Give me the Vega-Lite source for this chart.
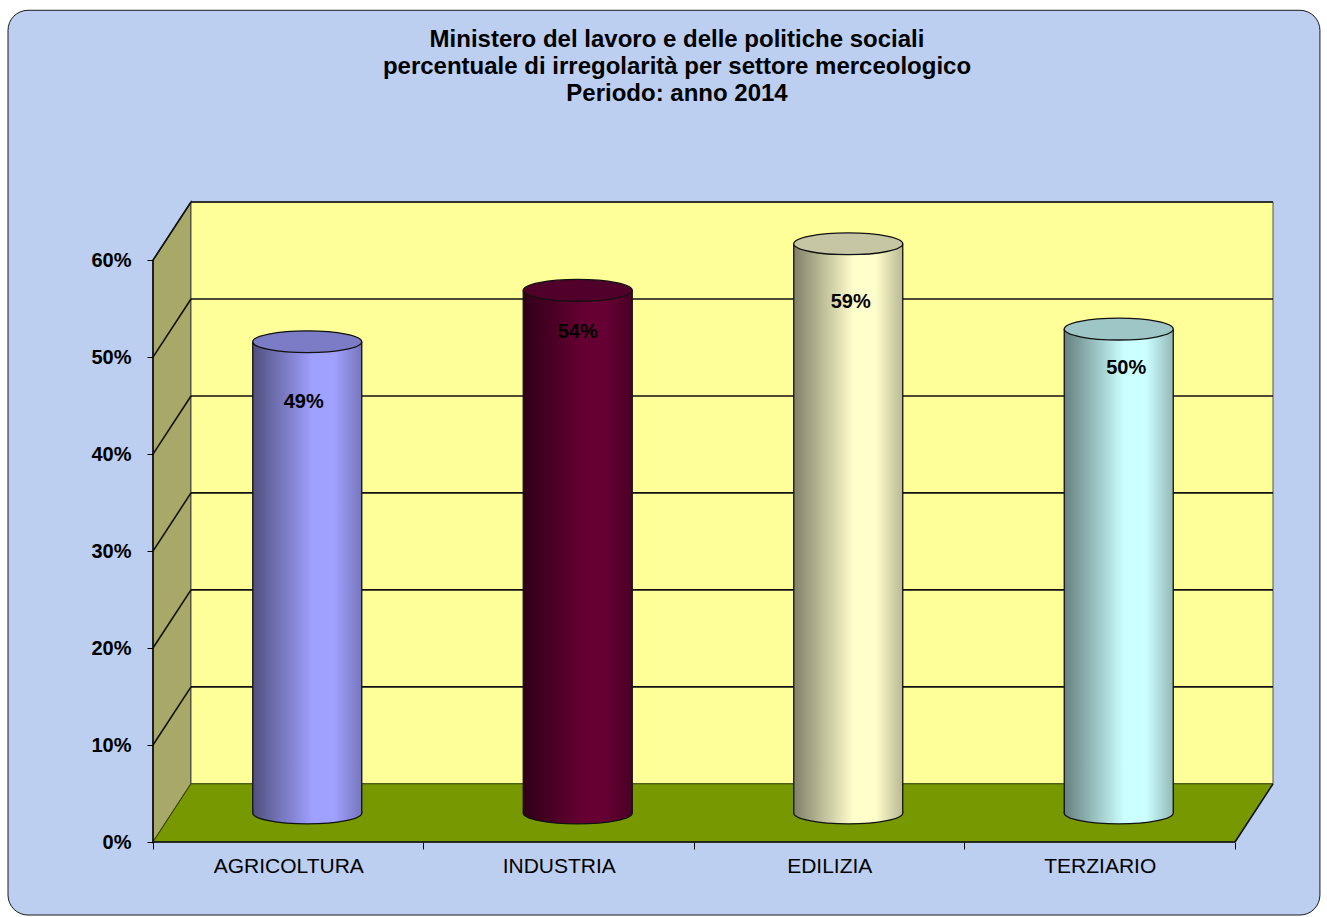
{
  "$schema": "https://vega.github.io/schema/vega-lite/v6.json",
  "width": 1120,
  "height": 640,
  "autosize": {"type": "none"},
  "padding": {"left": 153, "top": 202, "right": 54, "bottom": 75},
  "background": "#ffffff",
  "view": {"stroke": null},
  "title": {
    "text": ["Ministero del lavoro e delle politiche sociali", "percentuale di irregolarità per settore merceologico", "Periodo: anno 2014"],
    "font": "Liberation Sans", "fontSize": 24, "fontWeight": "bold", "color": "#000000",
    "anchor": "middle", "frame": "group", "dx": -36, "offset": -96, "lineHeight": 27
  },
  "datasets": {
    "settori": [
      {"settore": "AGRICOLTURA", "pos": 0.5, "valore": 0.486},
      {"settore": "INDUSTRIA", "pos": 1.5, "valore": 0.539},
      {"settore": "EDILIZIA", "pos": 2.5, "valore": 0.587},
      {"settore": "TERZIARIO", "pos": 3.5, "valore": 0.499}
    ],
    "griglia": [
      {"x": 0, "x2": 0.1405, "y": 0.1, "y2": 0.16},
      {"x": 0.1405, "x2": 4.1405, "y": 0.16, "y2": 0.16},
      {"x": 0, "x2": 0.1405, "y": 0.2, "y2": 0.26},
      {"x": 0.1405, "x2": 4.1405, "y": 0.26, "y2": 0.26},
      {"x": 0, "x2": 0.1405, "y": 0.3, "y2": 0.36},
      {"x": 0.1405, "x2": 4.1405, "y": 0.36, "y2": 0.36},
      {"x": 0, "x2": 0.1405, "y": 0.4, "y2": 0.46},
      {"x": 0.1405, "x2": 4.1405, "y": 0.46, "y2": 0.46},
      {"x": 0, "x2": 0.1405, "y": 0.5, "y2": 0.56},
      {"x": 0.1405, "x2": 4.1405, "y": 0.56, "y2": 0.56},
      {"x": 0, "x2": 0.1405, "y": 0.6, "y2": 0.66},
      {"x": 0.1405, "x2": 4.1405, "y": 0.66, "y2": 0.66},
      {"x": 0, "x2": 4, "y": 0, "y2": 0},
      {"x": 0, "x2": 0, "y": 0, "y2": 0.6},
      {"x": 4, "x2": 4.1405, "y": 0, "y2": 0.06}
    ]
  },
  "data": {"name": "settori"},
  "layer": [
    {
      "data": {"values": [{"x": -0.536, "x2": 4.314, "y": 0.8577, "y2": -0.0753}]},
      "mark": {"type": "rect", "fill": "#bccff0", "stroke": "#1a1a1a", "strokeWidth": 1, "cornerRadius": 20},
      "encoding": {
        "x": {"field": "x", "type": "quantitative", "scale": {"domain": [0, 4.1405], "nice": false, "zero": false, "padding": 0},
          "axis": {
            "title": null, "zindex": 1, "domain": false, "grid": false,
            "values": [0, 0.5, 1, 1.5, 2, 2.5, 3, 3.5, 4],
            "tickSize": 7, "tickColor": "#000000",
            "tickOpacity": {"condition": {"test": "datum.value % 1 != 0", "value": 0}, "value": 1},
            "labelExpr": "datum.value==0.5?'AGRICOLTURA':datum.value==1.5?'INDUSTRIA':datum.value==2.5?'EDILIZIA':datum.value==3.5?'TERZIARIO':''",
            "labelFont": "Liberation Sans", "labelFontSize": 21, "labelColor": "#000000", "labelPadding": 6, "labelOverlap": false, "labelFlush": false
          }},
        "x2": {"field": "x2"},
        "y": {"field": "y", "type": "quantitative", "scale": {"domain": [0, 0.66], "nice": false},
          "axis": {
            "title": null, "zindex": 1, "domain": false, "grid": false,
            "values": [0, 0.1, 0.2, 0.3, 0.4, 0.5, 0.6], "format": ".0%",
            "tickSize": 6, "tickColor": "#000000",
            "labelFont": "Liberation Sans", "labelFontSize": 20, "labelFontWeight": "bold", "labelColor": "#000000", "labelPadding": 16
          }},
        "y2": {"field": "y2"}
      }
    },
    {
      "data": {"values": [{"x": 0, "y": 0, "y2": 0.6}, {"x": 0.1405, "y": 0.06, "y2": 0.66}]},
      "mark": {"type": "area", "fill": "#a8a868", "stroke": "#222222", "strokeWidth": 1.2},
      "encoding": {
        "x": {"field": "x", "type": "quantitative"},
        "y": {"field": "y", "type": "quantitative"},
        "y2": {"field": "y2"}
      }
    },
    {
      "data": {"values": [{"x": 0.1405, "x2": 4.1405, "y": 0.06, "y2": 0.66}]},
      "mark": {"type": "rect", "fill": "#ffff99", "stroke": "#555555", "strokeWidth": 1},
      "encoding": {
        "x": {"field": "x", "type": "quantitative"},
        "x2": {"field": "x2"},
        "y": {"field": "y", "type": "quantitative"},
        "y2": {"field": "y2"}
      }
    },
    {
      "data": {"values": [{"y": 0, "x": 0, "x2": 4}, {"y": 0.06, "x": 0.1405, "x2": 4.1405}]},
      "mark": {"type": "area", "orient": "horizontal", "fill": "#789800", "stroke": "#3a4a00", "strokeWidth": 1},
      "encoding": {
        "y": {"field": "y", "type": "quantitative"},
        "x": {"field": "x", "type": "quantitative"},
        "x2": {"field": "x2"}
      }
    },
    {
      "data": {"name": "griglia"},
      "mark": {"type": "rule", "stroke": "#111111", "strokeWidth": 1.6},
      "encoding": {
        "x": {"field": "x", "type": "quantitative"},
        "x2": {"field": "x2"},
        "y": {"field": "y", "type": "quantitative"},
        "y2": {"field": "y2"}
      }
    },
    {
      "transform": [{"filter": "datum.settore=='AGRICOLTURA'"}],
      "layer": [
        {"mark": {"type": "point", "filled": true, "opacity": 1, "size": 11881, "xOffset": 19, "yOffset": -29, "stroke": "#111111", "strokeWidth": 1.3, "shape": "M -1 0 A 1 0.2 0 1 0 1 0 A 1 0.2 0 1 0 -1 0 Z",
          "fill": {"gradient": "linear", "x1": 0, "x2": 1, "y1": 0, "y2": 0, "stops": [{"offset": 0, "color": "#50507f"}, {"offset": 0.55, "color": "#a0a0ff"}, {"offset": 0.75, "color": "#a0a0ff"}, {"offset": 1, "color": "#7676bc"}]}},
          "encoding": {"x": {"field": "pos", "type": "quantitative"}, "y": {"datum": 0, "type": "quantitative"}}},
        {"mark": {"type": "bar", "orient": "vertical", "size": 109, "xOffset": 19, "yOffset": -29, "y2Offset": -29,
          "fill": {"gradient": "linear", "x1": 0, "x2": 1, "y1": 0, "y2": 0, "stops": [{"offset": 0, "color": "#50507f"}, {"offset": 0.55, "color": "#a0a0ff"}, {"offset": 0.75, "color": "#a0a0ff"}, {"offset": 1, "color": "#7676bc"}]}},
          "encoding": {"x": {"field": "pos", "type": "quantitative"}, "y": {"field": "valore", "type": "quantitative", "stack": null}, "y2": {"datum": 0}}}
      ]
    },
    {
      "transform": [{"filter": "datum.settore=='INDUSTRIA'"}],
      "layer": [
        {"mark": {"type": "point", "filled": true, "opacity": 1, "size": 11881, "xOffset": 19, "yOffset": -29, "stroke": "#111111", "strokeWidth": 1.3, "shape": "M -1 0 A 1 0.2 0 1 0 1 0 A 1 0.2 0 1 0 -1 0 Z",
          "fill": {"gradient": "linear", "x1": 0, "x2": 1, "y1": 0, "y2": 0, "stops": [{"offset": 0, "color": "#300018"}, {"offset": 0.55, "color": "#660033"}, {"offset": 0.75, "color": "#660033"}, {"offset": 1, "color": "#4a0025"}]}},
          "encoding": {"x": {"field": "pos", "type": "quantitative"}, "y": {"datum": 0, "type": "quantitative"}}},
        {"mark": {"type": "bar", "orient": "vertical", "size": 109, "xOffset": 19, "yOffset": -29, "y2Offset": -29,
          "fill": {"gradient": "linear", "x1": 0, "x2": 1, "y1": 0, "y2": 0, "stops": [{"offset": 0, "color": "#300018"}, {"offset": 0.55, "color": "#660033"}, {"offset": 0.75, "color": "#660033"}, {"offset": 1, "color": "#4a0025"}]}},
          "encoding": {"x": {"field": "pos", "type": "quantitative"}, "y": {"field": "valore", "type": "quantitative", "stack": null}, "y2": {"datum": 0}}}
      ]
    },
    {
      "transform": [{"filter": "datum.settore=='EDILIZIA'"}],
      "layer": [
        {"mark": {"type": "point", "filled": true, "opacity": 1, "size": 11881, "xOffset": 19, "yOffset": -29, "stroke": "#111111", "strokeWidth": 1.3, "shape": "M -1 0 A 1 0.2 0 1 0 1 0 A 1 0.2 0 1 0 -1 0 Z",
          "fill": {"gradient": "linear", "x1": 0, "x2": 1, "y1": 0, "y2": 0, "stops": [{"offset": 0, "color": "#80806a"}, {"offset": 0.55, "color": "#ffffcc"}, {"offset": 0.75, "color": "#ffffcc"}, {"offset": 1, "color": "#b8b894"}]}},
          "encoding": {"x": {"field": "pos", "type": "quantitative"}, "y": {"datum": 0, "type": "quantitative"}}},
        {"mark": {"type": "bar", "orient": "vertical", "size": 109, "xOffset": 19, "yOffset": -29, "y2Offset": -29,
          "fill": {"gradient": "linear", "x1": 0, "x2": 1, "y1": 0, "y2": 0, "stops": [{"offset": 0, "color": "#80806a"}, {"offset": 0.55, "color": "#ffffcc"}, {"offset": 0.75, "color": "#ffffcc"}, {"offset": 1, "color": "#b8b894"}]}},
          "encoding": {"x": {"field": "pos", "type": "quantitative"}, "y": {"field": "valore", "type": "quantitative", "stack": null}, "y2": {"datum": 0}}}
      ]
    },
    {
      "transform": [{"filter": "datum.settore=='TERZIARIO'"}],
      "layer": [
        {"mark": {"type": "point", "filled": true, "opacity": 1, "size": 11881, "xOffset": 19, "yOffset": -29, "stroke": "#111111", "strokeWidth": 1.3, "shape": "M -1 0 A 1 0.2 0 1 0 1 0 A 1 0.2 0 1 0 -1 0 Z",
          "fill": {"gradient": "linear", "x1": 0, "x2": 1, "y1": 0, "y2": 0, "stops": [{"offset": 0, "color": "#668080"}, {"offset": 0.55, "color": "#ccffff"}, {"offset": 0.75, "color": "#ccffff"}, {"offset": 1, "color": "#94b8b8"}]}},
          "encoding": {"x": {"field": "pos", "type": "quantitative"}, "y": {"datum": 0, "type": "quantitative"}}},
        {"mark": {"type": "bar", "orient": "vertical", "size": 109, "xOffset": 19, "yOffset": -29, "y2Offset": -29,
          "fill": {"gradient": "linear", "x1": 0, "x2": 1, "y1": 0, "y2": 0, "stops": [{"offset": 0, "color": "#668080"}, {"offset": 0.55, "color": "#ccffff"}, {"offset": 0.75, "color": "#ccffff"}, {"offset": 1, "color": "#94b8b8"}]}},
          "encoding": {"x": {"field": "pos", "type": "quantitative"}, "y": {"field": "valore", "type": "quantitative", "stack": null}, "y2": {"datum": 0}}}
      ]
    },
    {
      "mark": {"type": "rule", "stroke": "#111111", "strokeWidth": 1.3, "xOffset": -35.5, "yOffset": -29, "y2Offset": -29},
      "encoding": {"x": {"field": "pos", "type": "quantitative"}, "y": {"field": "valore", "type": "quantitative", "stack": null}, "y2": {"datum": 0}}
    },
    {
      "mark": {"type": "rule", "stroke": "#111111", "strokeWidth": 1.3, "xOffset": 73.5, "yOffset": -29, "y2Offset": -29},
      "encoding": {"x": {"field": "pos", "type": "quantitative"}, "y": {"field": "valore", "type": "quantitative", "stack": null}, "y2": {"datum": 0}}
    },
    {
      "mark": {"type": "point", "filled": true, "size": 11881, "opacity": 1, "xOffset": 19, "yOffset": -29, "stroke": "#111111", "strokeWidth": 1.3,
        "shape": "M -1 0 A 1 0.2 0 1 0 1 0 A 1 0.2 0 1 0 -1 0 Z"},
      "encoding": {
        "x": {"field": "pos", "type": "quantitative"},
        "y": {"field": "valore", "type": "quantitative", "stack": null},
        "fill": {"field": "settore", "type": "nominal", "legend": null, "scale": {
          "domain": ["AGRICOLTURA", "INDUSTRIA", "EDILIZIA", "TERZIARIO"],
          "range": ["#7c7cc6", "#50002a", "#c6c6a4", "#9ec6c6"]}}
      }
    },
    {
      "mark": {"type": "text", "font": "Liberation Sans", "fontSize": 20, "fontWeight": "bold", "color": "#000000", "baseline": "middle", "align": "center",
        "dx": {"expr": "datum.settore=='AGRICOLTURA'?15.5:datum.settore=='INDUSTRIA'?19:datum.settore=='EDILIZIA'?21.5:26.5"},
        "dy": {"expr": "datum.settore=='AGRICOLTURA'?31:datum.settore=='INDUSTRIA'?13:datum.settore=='EDILIZIA'?29:10"}},
      "encoding": {
        "x": {"field": "pos", "type": "quantitative"},
        "y": {"field": "valore", "type": "quantitative", "stack": null},
        "text": {"field": "valore", "type": "quantitative", "format": ".0%"}
      }
    }
  ]
}
